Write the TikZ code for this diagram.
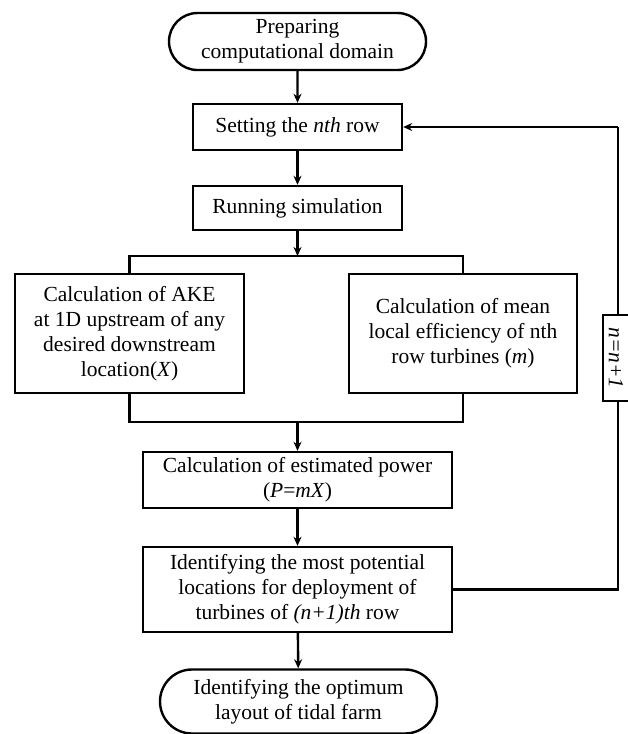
\documentclass[tikz,border=0pt]{standalone}
\usepackage{fontspec}
\setmainfont{Liberation Serif}
\usetikzlibrary{shapes.misc,arrows.meta}
\begin{document}
\begin{tikzpicture}[x=1pt,y=-1pt,
  every node/.style={font=\fontsize{21.5}{25}\selectfont, align=center, inner sep=1pt},
  box/.style={draw, line width=2.4pt, fill=white, rectangle},
  term/.style={draw, line width=2.4pt, fill=white, rounded rectangle},
  conn/.style={line width=2.4pt},
  arr/.style={line width=2.4pt, -{Stealth[length=9pt,width=8pt]}}]
\useasboundingbox (0,0) rectangle (628,734);
\node[term, minimum width=259, minimum height=57] (start) at (297.5,41.5) {Preparing\\computational domain};
\node[box, minimum width=209, minimum height=46] (set) at (297.5,127) {Setting the \textit{nth} row};
\node[box, minimum width=209, minimum height=44] (run) at (297.5,208) {Running simulation};
\node[box, minimum width=229, minimum height=119] (ake) at (129.5,333.5) {Calculation of AKE\\at 1D upstream of any\\desired downstream\\location(\textit{X})};
\node[box, minimum width=228, minimum height=119] (eff) at (463,333.5) {Calculation of mean\\local efficiency of nth\\row turbines (\textit{m})};
\node[box, minimum width=309, minimum height=56] (est) at (297.5,480) {Calculation of estimated power\\(\textit{P}=\textit{mX})};
\node[box, minimum width=309, minimum height=85] (ident) at (297.5,589.5) {Identifying the most potential\\locations for deployment of\\turbines of \textit{(n+1)th} row};
\node[term, minimum width=279, minimum height=64] (end) at (298.5,701.5) {Identifying the optimum\\layout of tidal farm};
\coordinate (split) at (297.5,256);
\coordinate (merge) at (297.5,422);
\coordinate (loopB) at (618,589.5);
\coordinate (loopT) at (618,127);
\draw[arr] (start) -- (set);
\draw[arr] (set) -- (run);
\draw[arr] (run) -- (split);
\draw[conn] (ake.north) -- (ake.north |- split) -- (eff.north |- split) -- (eff.north);
\draw[conn] (ake.south) -- (ake.south |- merge) -- (eff.south |- merge) -- (eff.south);
\draw[arr] (merge) -- (est);
\draw[arr] (est) -- (ident);
\draw[arr] (ident) -- (end);
\draw[conn] (ident.east) -- (loopB) -- (loopT);
\draw[arr] (loopT) -- (set.east);
\node[box, line width=2pt, rotate=-90, minimum width=86, minimum height=27] (nn) at (616,358) {\textit{n=n+1}};
\end{tikzpicture}
\end{document}
